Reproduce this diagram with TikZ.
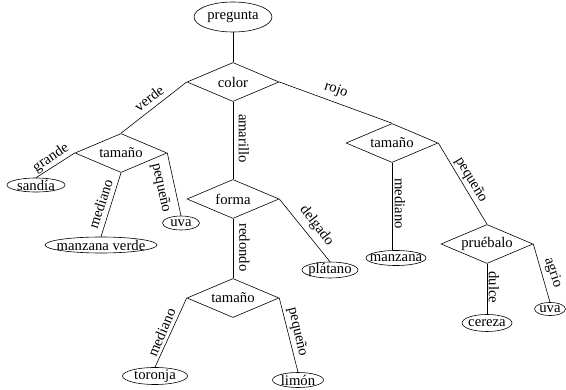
\documentclass[tikz,border=0pt]{standalone}
\usepackage{fontspec}
\setmainfont{Liberation Serif}
\usetikzlibrary{shapes.geometric}
\begin{document}
\begin{tikzpicture}[x=1pt,y=-1pt,
  every node/.style={font=\fontsize{14.7}{17}\selectfont, inner sep=0pt},
  leaf/.style={draw, ellipse, line width=0.6pt, inner xsep=-20pt, inner ysep=-10pt},
  test/.style={draw, diamond, aspect=2.36, line width=0.6pt,
               minimum width=92pt, minimum height=39pt},
  lbl/.style={inner sep=0pt, anchor=center},
  conn/.style={line width=0.6pt}]
\useasboundingbox (0,0) rectangle (566,390);

% decision nodes
\node[test] (color)  at (233,82)  {color};
\node[test] (tam1)   at (121,153) {tamaño};
\node[test] (forma)  at (233,199) {forma};
\node[test] (tam2)   at (392,143) {tamaño};
\node[test] (tam3)   at (233,298) {tamaño};
\node[test] (prueba) at (487,244) {pruébalo};

% root and leaves
\node[leaf, minimum width=78pt,  minimum height=30pt] (pregunta)  at (233,17)  {pregunta};
\node[leaf, minimum width=58pt,  minimum height=14pt] (sandia)    at (36,185)  {sandía};
\node[leaf, minimum width=112pt, minimum height=16pt] (manzverde) at (101,245) {manzana verde};
\node[leaf, minimum width=37pt,  minimum height=14pt] (uvaA)      at (181,223) {uva};
\node[leaf, minimum width=56pt,  minimum height=16pt] (platano)   at (330,270) {plátano};
\node[leaf, minimum width=65pt,  minimum height=17pt] (toronja)   at (155,376) {toronja};
\node[leaf, minimum width=51pt,  minimum height=15pt] (limon)     at (298,380) {limón};
\node[leaf, minimum width=60pt,  minimum height=15pt] (manzana)   at (396,258) {manzana};
\node[leaf, minimum width=50pt,  minimum height=17pt] (cereza)    at (487,323) {cereza};
\node[leaf, minimum width=31pt,  minimum height=13pt] (uvaB)      at (550,309) {uva};

\coordinate (manzanatop) at (tam2.south |- manzana.north);

% connectors
\draw[conn] (pregunta.south) -- (color.north);
\draw[conn] (color.west)  -- (tam1.north);
\draw[conn] (color.south) -- (forma.north);
\draw[conn] (color.east)  -- (tam2.north);
\draw[conn] (tam1.west)   -- (sandia.north);
\draw[conn] (tam1.south)  -- (manzverde.north);
\draw[conn] (tam1.east)   -- (uvaA.north);
\draw[conn] (forma.east)  -- (platano.north);
\draw[conn] (forma.south) -- (tam3.north);
\draw[conn] (tam3.west)   -- (toronja.north);
\draw[conn] (tam3.east)   -- (limon.north);
\draw[conn] (tam2.south)  -- (manzanatop);
\draw[conn] (tam2.east)   -- (prueba.north);
\draw[conn] (prueba.south) -- (cereza.north);
\draw[conn] (prueba.east)  -- (uvaB.north);

% branch labels
\node[lbl, rotate=37.6]  (l-verde)    at (149,98.5)  {verde};
\node[lbl, rotate=-90]   (l-amarillo) at (244,138.5) {amarillo};
\node[lbl, rotate=-20]   (l-rojo)     at (336,90)    {rojo};
\node[lbl, rotate=34]    (l-grande)   at (51,158)    {grande};
\node[lbl, rotate=72]    (l-med1)     at (100.5,204) {mediano};
\node[lbl, rotate=-77.5] (l-peq1)     at (161,188)   {pequeño};
\node[lbl, rotate=-52.7] (l-delgado)  at (316.5,226) {delgado};
\node[lbl, rotate=-90]   (l-redondo)  at (244.5,247.5) {redondo};
\node[lbl, rotate=66.8]  (l-med3)     at (161.5,332.5) {mediano};
\node[lbl, rotate=-77]   (l-peq3)     at (297.5,332) {pequeño};
\node[lbl, rotate=-90]   (l-med2)     at (400,203.5) {mediano};
\node[lbl, rotate=-59]   (l-peq2)     at (471,180)   {pequeño};
\node[lbl, rotate=-90]   (l-dulce)    at (494,287.5) {dulce};
\node[lbl, rotate=-71]   (l-agrio)    at (553,273)   {agrio};
\end{tikzpicture}
\end{document}
